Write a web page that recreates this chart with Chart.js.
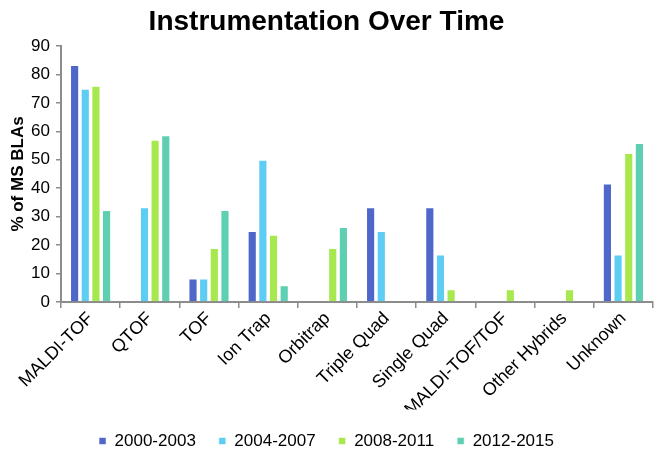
<!DOCTYPE html>
<html>
<head>
<meta charset="utf-8">
<script src="https://cdn.jsdelivr.net/npm/chart.js@4.4.1/dist/chart.umd.min.js"></script>
<style>
    html, body { margin: 0; padding: 0; background: #fff; }
    #wrap { width: 654px; height: 451px; }
</style>
</head>
<body>
<div id="wrap"><canvas id="chart"></canvas></div>
<script>
const categories = ['MALDI-TOF', 'QTOF', 'TOF', 'Ion Trap', 'Orbitrap', 'Triple Quad',
    'Single Quad', 'MALDI-TOF/TOF', 'Other Hybrids', 'Unknown'];

const series2000 = [83.3, 0, 8.3, 25, 0, 33.3, 33.3, 0, 0, 41.7];
const series2004 = [75, 33.3, 8.3, 50, 0, 25, 16.7, 0, 0, 16.7];
const series2008 = [76, 57, 19, 23.6, 19, 0, 4.5, 4.5, 4.5, 52.4];
const series2012 = [32.3, 58.6, 32.3, 5.9, 26.4, 0, 0, 0, 0, 55.9];

const yTicks = [0, 10, 20, 30, 40, 50, 60, 70, 80, 90];

const font = 'Liberation Sans, Arial, sans-serif';

function makeSet(label, data, color) {
    return {
        label: label,
        data: data,
        backgroundColor: color,
        borderColor: 'rgba(255,255,255,0.55)',
        borderWidth: 1,
        categoryPercentage: 0.72,
        barPercentage: 0.86
    };
}

new Chart(document.getElementById('chart'), {
    type: 'bar',
    data: {
        labels: categories,
        datasets: [
            makeSet('2000-2003', series2000, '#4f67c9'),
            makeSet('2004-2007', series2004, '#5ecdf3'),
            makeSet('2008-2011', series2008, '#a7e84f'),
            makeSet('2012-2015', series2012, '#5ecfb1')
        ]
    },
    options: {
        responsive: true,
        maintainAspectRatio: false,
        animation: false,
        // legend box is taller than its text, so let it hang off the bottom a bit
        layout: { padding: { left: 0, right: 1, top: 0, bottom: -8.5 } },
        plugins: {
            title: {
                display: true,
                text: 'Instrumentation Over Time',
                color: '#000',
                font: { family: font, size: 28, weight: 'bold' },
                padding: { top: 5, bottom: 7.4 }
            },
            legend: {
                position: 'bottom',
                labels: {
                    color: '#000',
                    font: { family: font, size: 17 },
                    boxWidth: 7,
                    boxHeight: 7,
                    padding: 23
                }
            },
            tooltip: { enabled: false }
        },
        scales: {
            x: {
                grid: {
                    display: true,
                    drawOnChartArea: false,
                    offset: true,
                    tickLength: 6,
                    color: '#8c8c8c',
                    lineWidth: 1.5
                },
                border: { color: '#8c8c8c', width: 2 },
                ticks: {
                    color: '#000',
                    font: { family: font, size: 18 },
                    minRotation: 45,
                    maxRotation: 45,
                    autoSkip: false,
                    padding: 0
                },
                afterFit: function (scale) { scale.height = 107.5; }
            },
            y: {
                min: 0,
                max: 90,
                afterBuildTicks: function (scale) {
                    scale.ticks = yTicks.map(v => ({ value: v }));
                },
                grid: {
                    display: true,
                    drawOnChartArea: false,
                    tickLength: 5,
                    color: '#8c8c8c',
                    lineWidth: 1.5
                },
                border: { color: '#8c8c8c', width: 2 },
                ticks: {
                    color: '#000',
                    font: { family: font, size: 17 },
                    padding: 6
                },
                title: {
                    display: true,
                    text: '% of MS BLAs',
                    color: '#000',
                    font: { family: font, size: 17, weight: 'bold' },
                    padding: { top: 8, bottom: 0 }
                },
                afterFit: function (scale) { scale.width = 61; }
            }
        }
    }
});
</script>
</body>
</html>
